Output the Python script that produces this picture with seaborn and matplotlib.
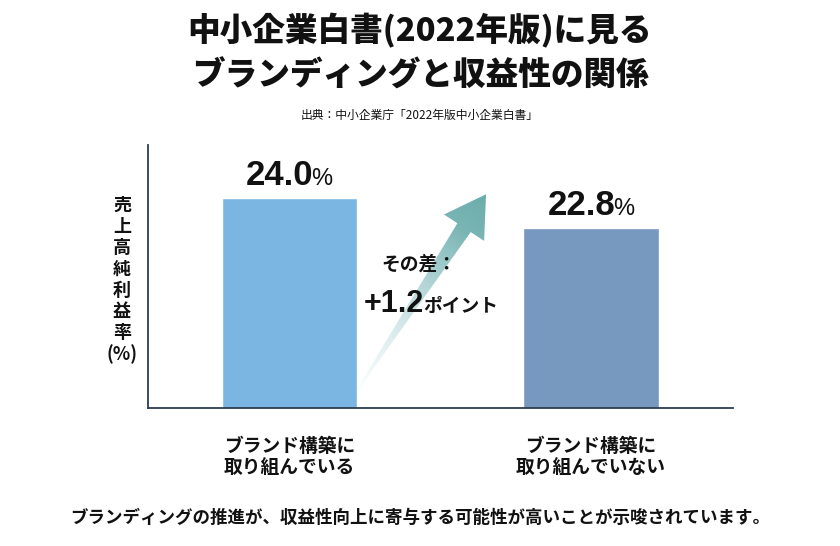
import numpy as np
import matplotlib
matplotlib.use("Agg")
import matplotlib.pyplot as plt
import seaborn as sns
from matplotlib.patches import Polygon

# ==========================================
# Data
# ==========================================
categories = ["ブランド構築に\n取り組んでいる", "ブランド構築に\n取り組んでいない"]
values = [24.0, 22.8]
bar_colors = ["#7bb6e3", "#7799bf"]
diff_points = round(values[0] - values[1], 1)

title_lines = ["中小企業白書(2022年版)に見る", "ブランディングと収益性の関係"]
source_text = "出典：中小企業庁「2022年版中小企業白書」"
ylabel_chars = "売上高純利益率"
caption = "ブランディングの推進が、収益性向上に寄与する可能性が高いことが示唆されています。"

# ==========================================
# Style
# ==========================================
sns.set_style("white")
plt.rcParams['font.family'] = ['Noto Sans CJK JP', 'DejaVu Sans']
plt.rcParams['text.color'] = "#111111"
plt.rcParams['xtick.color'] = "#111111"
num_font = ['Liberation Sans', 'DejaVu Sans']
axis_color = "#2c3e50"

W, H = 840, 546
fig = plt.figure(figsize=(W / 100, H / 100), dpi=100)
fig.patch.set_facecolor("white")
ax = fig.add_axes([148 / W, 138 / H, 585 / W, 263 / H])

sns.barplot(x=categories, y=values, hue=categories, palette=bar_colors,
            width=0.448, saturation=1, legend=False, ax=ax)

ax.set_xlim(-0.469, 1.471)
ax.set_ylim(15.6, 26.12)
ax.set_yticks([])
ax.set_xlabel("")
ax.set_ylabel("")
sns.despine(ax=ax)
for side in ["left", "bottom"]:
    ax.spines[side].set_color(axis_color)
    ax.spines[side].set_linewidth(1.3)
ax.tick_params(axis="x", length=0, pad=21)
ax.set_xticks(range(len(categories)))
ax.set_xticklabels(categories, fontsize=13.5, fontweight="bold", linespacing=1.12)

fig.canvas.draw()
renderer = fig.canvas.get_renderer()


def number_with_unit(x, y, num, unit, num_size, unit_size, offset_px=8):
    # number and smaller unit centred together above a point
    t1 = ax.annotate(num, (x, y), xytext=(0, offset_px), textcoords="offset pixels",
                     ha="left", va="baseline", fontsize=num_size,
                     fontweight="bold", family=num_font)
    t2 = ax.annotate(unit, (x, y), xytext=(0, offset_px), textcoords="offset pixels",
                     ha="left", va="baseline", fontsize=unit_size, family=num_font)
    w1 = t1.get_window_extent(renderer).width
    w2 = t2.get_window_extent(renderer).width
    gap = -2
    total = w1 + gap + w2
    t1.set_position((-total / 2, offset_px))
    t2.set_position((-total / 2 + w1 + gap, offset_px))


for i, v in enumerate(values):
    number_with_unit(i, v, f"{v:.1f}", "%", 25, 17, offset_px=13)

# ==========================================
# Gradient arrow between the bars
# ==========================================
tail = ax.transData.transform((0.224, 16.3))
tip = ax.transData.transform((0.652, 24.15))
d = tip - tail
L = np.hypot(*d)
u = d / L
n = np.array([-u[1], u[0]])
head_len, head_w, w0, w1 = 40, 48, 1.5, 16
hb = tip - u * head_len
pts_disp = np.array([
    tail - n * w0 / 2, hb - n * w1 / 2, hb - n * head_w / 2, tip,
    hb + n * head_w / 2, hb + n * w1 / 2, tail + n * w0 / 2,
])
pts_data = ax.transData.inverted().transform(pts_disp)
poly = Polygon(pts_data, closed=True, facecolor="none", edgecolor="none")
ax.add_patch(poly)

xmin, ymin = pts_disp.min(axis=0) - 2
xmax, ymax = pts_disp.max(axis=0) + 2
gx, gy = np.meshgrid(np.linspace(xmin, xmax, 300), np.linspace(ymin, ymax, 300))
tpos = ((gx - tail[0]) * u[0] + (gy - tail[1]) * u[1]) / L
tpos = np.clip(tpos, 0, 1)
c0 = np.array([0.84, 0.92, 0.95])
c1 = np.array([0.42, 0.68, 0.67])
mix = np.clip(tpos ** 0.7, 0, 1)[..., None]
rgba = np.zeros(gx.shape + (4,))
rgba[..., :3] = c0 * (1 - mix) + c1 * mix
rgba[..., 3] = np.clip(0.1 + tpos * 1.1, 0, 1)
(ex0, ey0), (ex1, ey1) = ax.transData.inverted().transform([[xmin, ymin], [xmax, ymax]])
im = ax.imshow(rgba, extent=[ex0, ex1, ey0, ey1], origin="lower",
               aspect="auto", interpolation="bilinear", zorder=3)
im.set_clip_path(poly)
ax.set_xlim(-0.469, 1.471)
ax.set_ylim(15.6, 26.12)

# difference label
fig.text(419 / W, 1 - 264 / H, "その差：", ha="center", va="center",
         fontsize=13.5, fontweight="bold")
t_num = fig.text(364 / W, 1 - 312 / H, f"+{diff_points}", ha="left", va="baseline",
                 fontsize=22, fontweight="bold", family=num_font)
fig.canvas.draw()
ext = t_num.get_window_extent(renderer)
fig.text((ext.x1 - 1) / W, 1 - 312 / H, "ポイント", ha="left", va="baseline",
         fontsize=13.5, fontweight="bold")

# ==========================================
# Titles, axis label, caption
# ==========================================
fig.text(0.5, 1 - 31 / H, title_lines[0], ha="center", va="center",
         fontsize=23.5, fontweight="heavy")
fig.text(0.5, 1 - 76 / H, title_lines[1], ha="center", va="center",
         fontsize=23.5, fontweight="heavy")
fig.text(0.5, 1 - 115 / H, source_text, ha="center", va="center", fontsize=8.5)

fig.text(122 / W, 1 - 280 / H, "\n".join(ylabel_chars) + "\n(%)",
         ha="center", va="center", fontsize=13, fontweight="bold",
         linespacing=1.15)

fig.text(0.5, 1 - 518 / H, caption, ha="center", va="center",
         fontsize=12.6, fontweight="bold")

plt.savefig("out.png", dpi=100, facecolor="white")
